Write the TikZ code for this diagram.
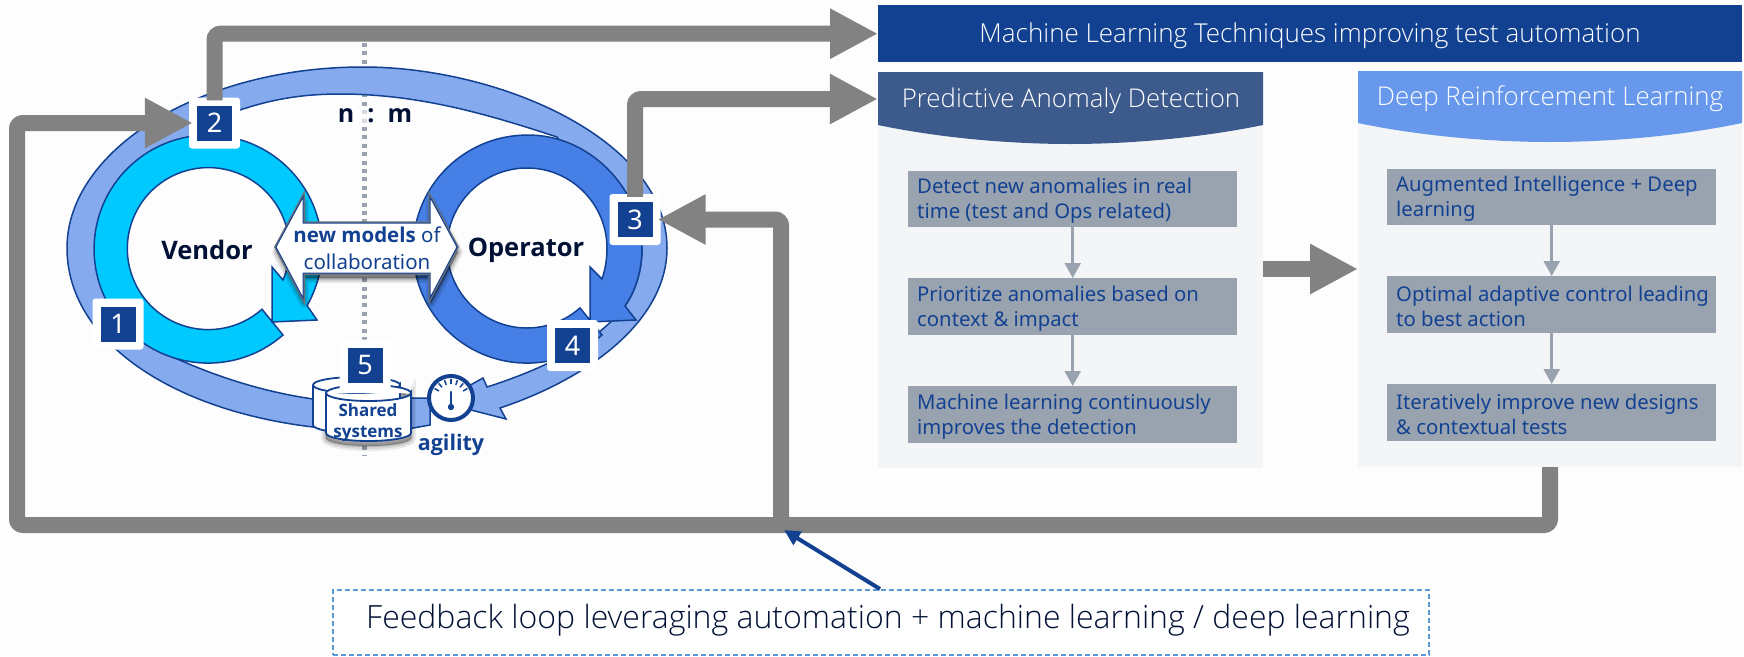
\documentclass[tikz,border=0pt]{standalone}
\usepackage{fontspec}
\setmainfont{Noto Sans}
\newfontfamily\lightfont[UprightFont={* Light}]{Open Sans}
\newfontfamily\heavyfont[UprightFont={* Bold}]{Open Sans}
\usetikzlibrary{arrows.meta,calc}
\definecolor{nblue}{HTML}{124191}
\definecolor{navy}{HTML}{001135}
\definecolor{gconn}{HTML}{828282}
\definecolor{band}{HTML}{85ABEE}
\definecolor{vendorc}{HTML}{00C9FF}
\definecolor{opc}{HTML}{4680E6}
\definecolor{hdrA}{HTML}{3D5A8C}
\definecolor{hdrB}{HTML}{6798EC}
\definecolor{panelc}{HTML}{F3F5F7}
\definecolor{stepc}{HTML}{99A3B0}
\definecolor{dashc}{HTML}{5B9BD5}
\definecolor{bgc}{HTML}{FEFDFE}
\tikzset{
  ringline/.style={draw=nblue,line width=1.5pt,line join=miter},
  greyarrow/.style={draw=gconn,line width=16pt,rounded corners=6pt,-{Triangle[length=48pt,width=47pt]}},
  stepbox/.style={fill=stepc,minimum width=329pt,inner sep=0pt,anchor=north west},
  steptext/.style={text=nblue,inner sep=0pt,align=left,anchor=west,font=\fontsize{20.3}{25}\selectfont},
  steparrow/.style={draw=stepc,line width=2.5pt,-{Triangle[length=15pt,width=16pt]}},
  numbox/.style={fill=nblue,text=white,minimum size=35pt,inner sep=0pt,font=\fontsize{27}{30}\selectfont},
  numback/.style={fill=white,rounded corners=3pt,minimum size=51pt,inner sep=0pt},
  hdrtext/.style={text=white,font=\lightfont\fontsize{25.8}{30}\selectfont,inner sep=0pt},
  cyl/.style={fill=white,draw=nblue,line width=1.8pt},
}
\def\dblarrow{(276,247)--(303,197)--(303,223)--(430,223)--(430,197)--(457,247)--(430,298)--(430,273)--(303,273)--(303,298)--cycle}
\def\frontcyl{(326,393) -- (326,433) arc[start angle=180,end angle=0,x radius=42.5,y radius=8] -- (411,393) arc[start angle=0,end angle=360,x radius=42.5,y radius=8]}
\def\backcyl{(313,385) -- (313,425) arc[start angle=180,end angle=0,x radius=43.5,y radius=8] -- (400,385) arc[start angle=0,end angle=360,x radius=43.5,y radius=8]}
\begin{document}
\begin{tikzpicture}[x=1pt,y=-1pt]
\useasboundingbox (0,0) rectangle (1744,656);
\fill[bgc] (0,0) rectangle (1744,656);
% dotted axis
\draw[stepc,line width=5pt,dash pattern=on 4pt off 4.4pt] (364,43) -- (364,455);
\node[fill=white,fill opacity=.6,text opacity=1,text=navy,inner xsep=4pt,inner ysep=2pt,font=\heavyfont\fontsize{25}{28}\selectfont] (nm) at (375,116) {n\hspace{13pt}:\hspace{13pt}m};
% big band
\path[ringline,fill=band] (430,425) -- (413,428) .. controls (380,430) and (345,430) .. (313,427)
  .. controls (170,410) and (67,340) .. (67,248)
  .. controls (67,150) and (200,67) .. (363,67)
  .. controls (500,67) and (667,140) .. (667,248)
  .. controls (667,320) and (590,378) .. (500,408)
  -- (506,419) -- (440,402) -- (483,378) -- (487,387)
  .. controls (540,370) and (595,345) .. (625,306)
  .. controls (636,290) and (642,270) .. (642,248)
  -- (557,137)
  .. controls (490,115) and (420,94) .. (340,94)
  .. controls (300,94) and (270,100) .. (240,110)
  -- (200,142) .. controls (150,150) and (107,190) .. (107,248)
  .. controls (107,300) and (140,345) .. (175,358)
  .. controls (220,378) and (265,392) .. (313,399)
  -- (430,398) -- cycle;
% vendor ring
\path[ringline,fill=vendorc] (283,335) arc[start angle=48.9,end angle=389.7,radius=114]
  -- (317,320) -- (272,322) -- (272,267) -- (283,280)
  arc[start angle=382.8,end angle=48.5,radius=81] -- cycle;
% operator ring
\path[ringline,fill=opc] (602,335) arc[start angle=48.9,end angle=270,radius=114]
  .. controls (590,134) and (642,190) .. (642,248)
  .. controls (642,270) and (636,290) .. (625,306)
  -- (636,320) -- (590,322) -- (590,267) -- (602,279)
  .. controls (605,270) and (607,260) .. (607,248)
  .. controls (607,205) and (572,168) .. (527,168)
  arc[start angle=270,end angle=48.5,radius=80] -- cycle;
\node[text=navy,font=\heavyfont\fontsize{25.5}{28}\selectfont,inner sep=0pt] (vendor) at (207,250) {Vendor};
\node[text=navy,font=\heavyfont\fontsize{25.5}{28}\selectfont,inner sep=0pt] (operator) at (526,250) {Operator};
% double arrow
\foreach \w/\o in {10/.07,7/.09,4/.11,1/.14}{
  \fill[black,opacity=\o,draw=black,line width=\w pt,line join=round,shift={(1,5)}] \dblarrow;
}
\path[draw=stepc!70!black,line width=3.5pt,fill=white,line join=miter] \dblarrow;
\path[draw=nblue,line width=1pt,fill=white,line join=miter] \dblarrow;
\node[text=nblue,font=\fontsize{20.5}{27}\selectfont,inner sep=0pt,align=center] (newm) at (367,248.5) {{\heavyfont new models} of\\collaboration};
% cylinders
\foreach \w/\o in {10/.07,6/.1,2/.14}{
  \fill[black,opacity=\o,draw=black,line width=\w pt,shift={(0,5)}] \frontcyl;
}
\draw[cyl] \backcyl;
\draw[cyl] \frontcyl;
\node[text=nblue,font=\heavyfont\fontsize{17}{21}\selectfont,inner sep=0pt,align=center] (shared) at (368,423) {Shared\\systems};
% gauge
\node[circle,fill=white,draw=nblue,line width=4pt,minimum size=44pt,inner sep=0pt] (gauge) at (451,398) {};
\foreach \a in {-150,-130,-110,-90,-70,-50,-30}{
  \draw[nblue,line width=1.5pt] ($(gauge)+(\a:14)$) -- ($(gauge)+(\a:19)$);
}
\draw[nblue,line width=2.5pt,line cap=round] (451,392) -- (451,407);
\fill[nblue] (451,407) circle[radius=3.2];
\node[text=nblue,font=\heavyfont\fontsize{21.5}{26}\selectfont,inner sep=0pt] (agility) at (451,445) {agility};
% number boxes
\node[numback] (n1b) at (118,324) {};
\node[numback] (n2) at (214.5,123) {};
\node[numback] (n3) at (635,219.5) {};
\node[numback] (n4) at (572.5,345.5) {};
\node[numback] (n5b) at (365,365) {};
\node[numbox] (n1) at (n1b) {1};
\node[numbox] (n2f) at (n2) {2};
\node[numbox] (n3f) at (n3) {3};
\node[numbox] (n4f) at (n4) {4};
\node[numbox] (n5) at (n5b) {5};
% title bar
\node[fill=nblue,minimum width=864pt,minimum height=57pt,inner sep=0pt,anchor=north west] (title) at (878,5) {};
\node[text=white,font=\lightfont\fontsize{26}{30}\selectfont,inner sep=0pt] (titletext) at (1310,35.5) {Machine Learning Techniques improving test automation};
% panels
\fill[panelc] (878,72) rectangle (1263,468);
\fill[panelc] (1358,71) rectangle (1742,467);
\fill[hdrA] (878,72) -- (1263,72) -- (1263,125) .. controls (1200,138) and (1130,144) .. (1070,144) .. controls (1010,144) and (940,138) .. (878,125) -- cycle;
\fill[hdrB] (1358,71) -- (1742,71) -- (1742,123) .. controls (1680,136) and (1610,142) .. (1550,142) .. controls (1490,142) and (1420,136) .. (1358,123) -- cycle;
\node[minimum width=385pt,minimum height=54pt,inner sep=0pt] (hdrleft) at (1070.5,99) {};
\node[hdrtext] (hdrlefttext) at (1071,101) {Predictive Anomaly Detection};
\node[hdrtext] (hdrrighttext) at (1550,99) {Deep Reinforcement Learning};
% steps
\node[stepbox,minimum height=56pt] (a1) at (908,171) {};
\node[stepbox,minimum height=57pt] (a2) at (908,278) {};
\node[stepbox,minimum height=57pt] (a3) at (908,386) {};
\node[stepbox,minimum height=56pt] (b1) at (1387,169) {};
\node[stepbox,minimum height=57pt] (b2) at (1387,276) {};
\node[stepbox,minimum height=57pt] (b3) at (1387,384) {};
\node[steptext] (a1t) at ([xshift=9pt,yshift=-2pt]a1.west) {Detect new anomalies in real\\time (test and Ops related)};
\node[steptext] (a2t) at ([xshift=9pt,yshift=-2pt]a2.west) {Prioritize anomalies based on\\context \& impact};
\node[steptext] (a3t) at ([xshift=9pt,yshift=-2pt]a3.west) {Machine learning continuously\\improves the detection};
\node[steptext] (b1t) at ([xshift=9pt,yshift=-2pt]b1.west) {Augmented Intelligence + Deep\\learning};
\node[steptext] (b2t) at ([xshift=9pt,yshift=-2pt]b2.west) {Optimal adaptive control leading\\to best action};
\node[steptext] (b3t) at ([xshift=9pt,yshift=-2pt]b3.west) {Iteratively improve new designs\\\& contextual tests};
\draw[steparrow] (a1) -- (a2);
\draw[steparrow] (a2) -- (a3);
\draw[steparrow] (b1) -- (b2);
\draw[steparrow] (b2) -- (b3);
% grey connectors
\coordinate (panelAe) at (1263,269);
\coordinate (panelBw) at (1358,269);
\coordinate (fbs) at (1550,467);
\coordinate (fbc1) at (1550,525);
\coordinate (fbc2) at (17,525);
\coordinate (fbc3) at (17,123);
\coordinate (fbj) at (781,525);
\coordinate (fbk) at (781,219.5);
\draw[greyarrow] ([yshift=-3pt]n2.north) |- (title.west);
\draw[greyarrow] ([yshift=-3pt]n3.north) |- (hdrleft.west);
\draw[greyarrow] (panelAe) -- (panelBw);
\draw[greyarrow] (fbs) -- (fbc1) -- (fbc2) -- (fbc3) -- ([xshift=4pt]n2.west);
\draw[greyarrow] (fbj) -- (fbk) -- ([xshift=-3pt]n3.east);
% feedback box
\node[draw=dashc,fill=white,line width=2pt,dash pattern=on 5pt off 3pt,minimum width=1096pt,minimum height=65pt,inner sep=0pt,anchor=north west] (fb) at (332,589) {};
\node[text=navy,font=\lightfont\fontsize{32}{36}\selectfont,inner sep=0pt] (fbtext) at (888,620) {Feedback loop leveraging automation + machine learning / deep learning};
\coordinate (fbtop) at (880,589);
\coordinate (fbtip) at (784,530);
\draw[nblue,line width=4pt,-{Triangle[length=16pt,width=15pt]}] (fbtop) -- (fbtip);
\end{tikzpicture}
\end{document}
